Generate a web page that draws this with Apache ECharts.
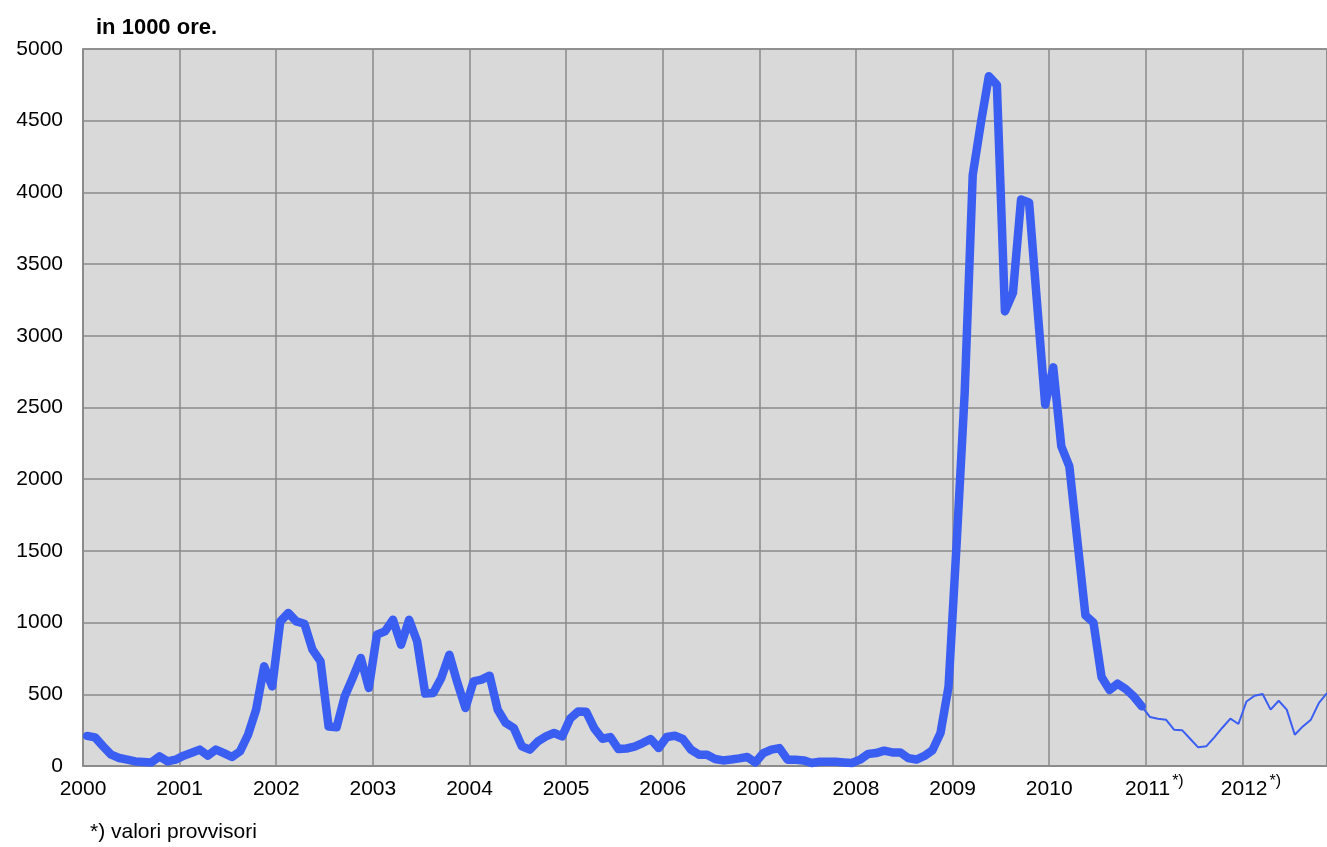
<!DOCTYPE html>
<html>
<head>
<meta charset="utf-8">
<script src="https://cdn.jsdelivr.net/npm/echarts@6/dist/echarts.min.js"></script>
<style>html,body{margin:0;padding:0;background:#fff;}#c{width:1327px;height:847px;}</style>
</head>
<body>
<div id="c"></div>
<script>
// monthly values (in 1000 ore), Jan..Dec
const y2000 = [210, 200, 137, 79, 56, 45, 32, 28, 25, 67, 32, 44];
const y2001 = [72, 92, 114, 72, 114, 90, 63, 102, 218, 393, 695, 555];
const y2002 = [1008, 1067, 1008, 992, 811, 729, 276, 270, 485, 615, 753, 544];
const y2003 = [916, 939, 1020, 846, 1020, 869, 505, 509, 614, 776, 580, 404];
const y2004 = [590, 602, 630, 393, 300, 265, 137, 114, 172, 206, 230, 206];
const y2005 = [330, 380, 378, 262, 190, 202, 118, 122, 135, 160, 188, 125];
const y2006 = [202, 211, 188, 114, 79, 79, 49, 39, 45, 53, 63, 25];
const y2007 = [90, 114, 125, 44, 44, 39, 21, 30, 30, 30, 25, 21];
const y2008 = [44, 84, 90, 107, 95, 95, 55, 45, 70, 110, 230, 555];
const y2009 = [1550, 2600, 4120, 4480, 4810, 4750, 3170, 3300, 3950, 3930, 3220, 2520];
const y2010 = [2780, 2230, 2090, 1570, 1050, 1000, 620, 530, 574, 537, 485, 416];
// provisional values
const y2011 = [342, 330, 323, 253, 250, 190, 130, 137, 200, 267, 330, 293];
const y2012 = [450, 490, 502, 393, 455, 393, 218, 276, 323, 440, 509];

const startYear = 2000;
const provisionalYears = [2011, 2012];
const yTicks = [0, 500, 1000, 1500, 2000, 2500, 3000, 3500, 4000, 4500, 5000];

const finalValues = [].concat(y2000, y2001, y2002, y2003, y2004, y2005, y2006, y2007, y2008, y2009, y2010);
const provValues = [].concat(y2011, y2012);

// points placed at mid-month on a month-based value axis
const thick = finalValues.map((v, i) => [i + 0.5, v]);
const lastIdx = finalValues.length - 1;
const thin = [[lastIdx + 0.5, finalValues[lastIdx]]].concat(
  provValues.map((v, i) => [finalValues.length + i + 0.5, v])
);

const chart = echarts.init(document.getElementById('c'));
const font = 'Liberation Sans, Arial, sans-serif';
chart.setOption({
  animation: false,
  backgroundColor: '#ffffff',
  grid: {
    left: 83, right: 0, top: 49, bottom: 81,
    show: true, backgroundColor: '#d9d9d9', borderColor: '#8a8a8a', borderWidth: 1.5
  },
  title: {
    text: 'in 1000 ore.', left: 91, top: 12,
    textStyle: { fontFamily: font, fontSize: 22, fontWeight: 'bold', color: '#000' }
  },
  graphic: [{
    type: 'text', left: 90, top: 822,
    style: { text: '*) valori provvisori', font: '21px ' + font, fill: '#000' }
  }],
  xAxis: {
    type: 'value', min: 0, max: 154.5, interval: 12,
    axisLine: { show: true, lineStyle: { color: '#8a8a8a', width: 1.5 } },
    axisTick: { show: false },
    splitLine: { show: true, lineStyle: { color: '#8a8a8a', width: 1.5 } },
    axisLabel: {
      showMaxLabel: false,
      margin: 8,
      fontFamily: font, fontSize: 21, color: '#000', lineHeight: 30,
      formatter: function (v) {
        const yr = startYear + Math.round(v / 12);
        if (provisionalYears.indexOf(yr) >= 0) return '{p|}{n|' + yr + '}{s|*)}';
        return '{n|' + yr + '}';
      },
      rich: {
        p: { width: 17, lineHeight: 30 },
        n: { fontFamily: font, fontSize: 21, color: '#000', lineHeight: 30 },
        s: { fontFamily: font, fontSize: 16, color: '#000', lineHeight: 16, verticalAlign: 'top', padding: [0, 0, 0, 2] }
      }
    }
  },
  yAxis: {
    type: 'value', min: 0, max: 5000, interval: 500,
    axisLine: { show: true, lineStyle: { color: '#8a8a8a', width: 1.5 } },
    axisTick: { show: false },
    splitLine: { show: true, lineStyle: { color: '#8a8a8a', width: 1.5 } },
    axisLabel: {
      margin: 20, fontFamily: font, fontSize: 21, color: '#000',
      formatter: function (v) { return yTicks.indexOf(v) >= 0 ? String(v) : ''; }
    }
  },
  series: [
    {
      type: 'line', data: thick, showSymbol: false, symbol: 'none',
      lineStyle: { color: '#3b5ef2', width: 8.5, join: 'round', cap: 'round' }
    },
    {
      type: 'line', data: thin, showSymbol: false, symbol: 'none',
      lineStyle: { color: '#3b5ef2', width: 2 }
    }
  ]
});
</script>
</body>
</html>
